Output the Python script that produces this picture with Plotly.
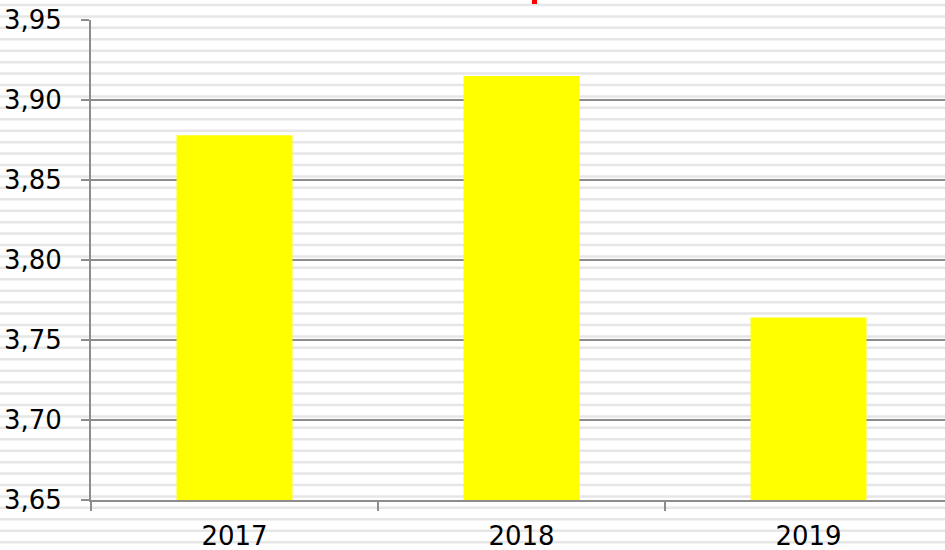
import plotly.graph_objects as go

years = ["2017", "2018", "2019"]
values = [3.878, 3.915, 3.764]

W, H = 945, 550
L, R, T, B = 91, 0, 20, 50
plot_w = W - L - R
plot_h = H - T - B

fig = go.Figure(go.Bar(
    x=years, y=values,
    marker=dict(color="#FFFF00", line=dict(width=0)),
    hoverinfo="x+y",
))

# striped background pattern (horizontal light gray lines across the whole page)
shapes = []
period = 80 / 7
y = 5.0
while y < H + 2:
    py = (H - B - y) / plot_h
    shapes.append(dict(type="line", xref="paper", yref="paper",
                       x0=-L / plot_w - 0.01, x1=1.01, y0=py, y1=py,
                       line=dict(color="#e6e6e6", width=2.5), layer="below"))
    y += period

# clipped red title fragment at the top
shapes.append(dict(type="rect", xref="paper", yref="paper",
                   x0=(532 - L) / plot_w, x1=(537 - L) / plot_w,
                   y0=(H - B - 4) / plot_h, y1=(H - B + 2) / plot_h,
                   fillcolor="#ff0000", line=dict(width=0), layer="above"))

fig.update_layout(
    width=W, height=H,
    margin=dict(l=L, r=R, t=T, b=B, pad=0),
    paper_bgcolor="white",
    plot_bgcolor="rgba(0,0,0,0)",
    separators=",.",
    font=dict(family="DejaVu Sans, Verdana, sans-serif", size=26, color="black"),
    bargap=0.596,
    showlegend=False,
    shapes=shapes,
    xaxis=dict(
        type="category",
        range=[-0.5, 2.5 - 7 / 287],
        tickson="boundaries",
        ticks="outside", ticklen=9, tickwidth=2, tickcolor="#8c8c8c",
        showline=True, linecolor="#8c8c8c", linewidth=2,
        showgrid=False, zeroline=False,
        ticklabelstandoff=12,
    ),
    yaxis=dict(
        range=[3.65, 3.95], dtick=0.05, tick0=3.65, tickformat=".2f",
        ticks="outside", ticklen=8, tickwidth=2, tickcolor="#8c8c8c",
        showline=True, linecolor="#8c8c8c", linewidth=2,
        showgrid=True, gridcolor="#8c8c8c", gridwidth=2,
        zeroline=False,
        ticklabelstandoff=14,
    ),
)

fig.write_html(
    "out.html",
    config={"displayModeBar": False},
    post_script="document.body.style.margin='0';document.body.style.overflow='hidden';",
)
